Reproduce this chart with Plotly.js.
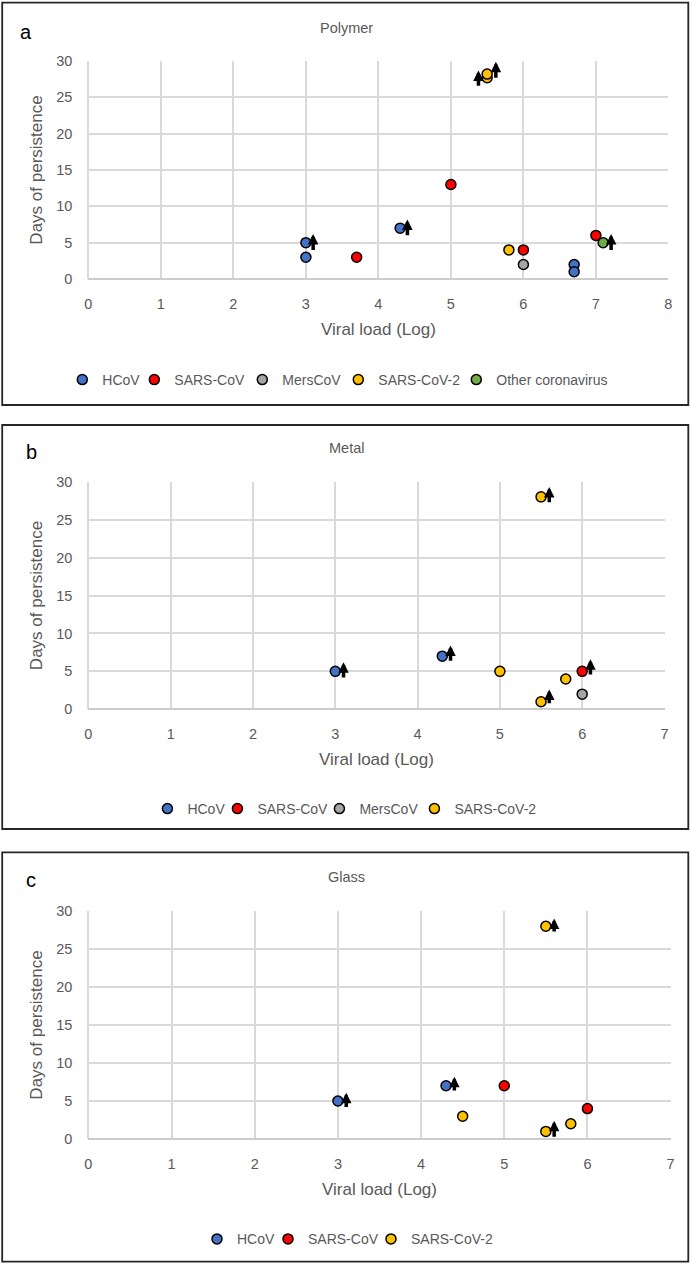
<!DOCTYPE html>
<html>
<head>
<meta charset="utf-8">
<script src="https://cdn.plot.ly/plotly-3.0.1.min.js"></script>
<style>
  html, body { margin: 0; padding: 0; background: #ffffff; }
  #chart { width: 692px; height: 1265px; }
</style>
</head>
<body>
<div id="chart"></div>
<script>
// ---------- Data ----------
const seriesNames = ['HCoV', 'SARS-CoV', 'MersCoV', 'SARS-CoV-2', 'Other coronavirus'];
const panelTitles = ['Polymer', 'Metal', 'Glass'];
const panelLetters = ['a', 'b', 'c'];
const xAxisTitle = 'Viral load (Log)';
const yAxisTitle = 'Days of persistence';
const xTickValsA = [0, 1, 2, 3, 4, 5, 6, 7, 8];
const xTickValsBC = [0, 1, 2, 3, 4, 5, 6, 7];
const yTickVals = [0, 5, 10, 15, 20, 25, 30];

// (a) Polymer
const polymerHCoVX = [3, 3, 4.3, 6.7, 6.7];
const polymerHCoVY = [5, 3, 7, 2, 1];
const polymerSARSX = [3.7, 5, 6, 7];
const polymerSARSY = [3, 13, 4, 6];
const polymerMersX = [6];
const polymerMersY = [2];
const polymerCoV2X = [5.5, 5.5, 5.8];
const polymerCoV2Y = [27.7, 28.2, 4];
const polymerOtherX = [7.1];
const polymerOtherY = [5];
const polymerArrowX = [3.1, 4.4, 5.38, 5.62, 7.21];
const polymerArrowFrom = [3.8, 5.8, 26.4, 27.5, 3.8];
const polymerArrowTo = [6.2, 8.2, 28.7, 29.9, 6.2];

// (b) Metal
const metalHCoVX = [3, 4.3];
const metalHCoVY = [5, 7];
const metalSARSX = [6];
const metalSARSY = [5];
const metalMersX = [6];
const metalMersY = [2];
const metalCoV2X = [5.5, 5, 5.8, 5.5];
const metalCoV2Y = [28, 5, 4, 1];
const metalArrowX = [3.1, 4.4, 5.6, 6.1, 5.6];
const metalArrowFrom = [4.0, 6.2, 27.1, 4.4, 0.6];
const metalArrowTo = [6.2, 8.4, 29.3, 6.6, 2.6];

// (c) Glass
const glassHCoVX = [3, 4.3];
const glassHCoVY = [5, 7];
const glassSARSX = [5, 6];
const glassSARSY = [7, 4];
const glassCoV2X = [5.5, 4.5, 5.8, 5.5];
const glassCoV2Y = [28, 3, 2, 1];
const glassArrowX = [3.1, 4.4, 5.6, 5.6];
const glassArrowFrom = [4.0, 6.2, 27.1, 0.1];
const glassArrowTo = [6.1, 8.2, 29.0, 2.4];

// ---------- Styles ----------
const seriesColors = {
  'HCoV': '#4472C4',
  'SARS-CoV': '#FF0000',
  'MersCoV': '#A5A5A5',
  'SARS-CoV-2': '#FFC000',
  'Other coronavirus': '#70AD47'
};
const FONT = '"Liberation Sans", Arial, sans-serif';
const TEXT_GRAY = '#595959';
const GRID = '#D9D9D9';
const W = 692, H = 1265;
const px = v => v / W;
const py = v => 1 - v / H;

function pt(name, x, y, xa, ya, legendId, lw) {
  return {
    type: 'scatter', mode: 'markers', name: name,
    x: x, y: y, xaxis: xa, yaxis: ya, legend: legendId,
    legendwidth: lw,
    cliponaxis: false,
    marker: { size: 10, color: seriesColors[name], line: { color: '#000000', width: 1.5 } },
    hoverinfo: 'x+y+name'
  };
}

const traces = [
  pt('HCoV', polymerHCoVX, polymerHCoVY, 'x', 'y', 'legend', 27),
  pt('SARS-CoV', polymerSARSX, polymerSARSY, 'x', 'y', 'legend', 63),
  pt('MersCoV', polymerMersX, polymerMersY, 'x', 'y', 'legend', 51),
  pt('SARS-CoV-2', polymerCoV2X, polymerCoV2Y, 'x', 'y', 'legend', 73),
  pt('Other coronavirus', polymerOtherX, polymerOtherY, 'x', 'y', 'legend', 0),

  pt('HCoV', metalHCoVX, metalHCoVY, 'x2', 'y2', 'legend2', 25),
  pt('SARS-CoV', metalSARSX, metalSARSY, 'x2', 'y2', 'legend2', 57),
  pt('MersCoV', metalMersX, metalMersY, 'x2', 'y2', 'legend2', 50),
  pt('SARS-CoV-2', metalCoV2X, metalCoV2Y, 'x2', 'y2', 'legend2', 0),

  pt('HCoV', glassHCoVX, glassHCoVY, 'x3', 'y3', 'legend3', 26),
  pt('SARS-CoV', glassSARSX, glassSARSY, 'x3', 'y3', 'legend3', 58),
  pt('SARS-CoV-2', glassCoV2X, glassCoV2Y, 'x3', 'y3', 'legend3', 0)
];

function xAxis(domain, range, tickvals, anchor) {
  return {
    domain: domain, range: range, tickvals: tickvals, anchor: anchor,
    showgrid: true, gridcolor: GRID, gridwidth: 2,
    zeroline: true, zerolinecolor: GRID, zerolinewidth: 2,
    showline: false, ticks: '', ticklabelstandoff: 14,
    tickfont: { family: FONT, size: 14.5, color: TEXT_GRAY },
    title: { text: xAxisTitle, font: { family: FONT, size: 17, color: TEXT_GRAY }, standoff: 12 },
    fixedrange: true
  };
}
function yAxis(domain, anchor) {
  return {
    domain: domain, range: [0, 30], tickvals: yTickVals, anchor: anchor,
    showgrid: true, gridcolor: GRID, gridwidth: 2,
    zeroline: true, zerolinecolor: '#CCCCCC', zerolinewidth: 2,
    showline: false, ticks: '', ticklabelstandoff: 15,
    tickfont: { family: FONT, size: 14.5, color: TEXT_GRAY },
    title: { text: yAxisTitle, font: { family: FONT, size: 17, color: TEXT_GRAY }, standoff: 9 },
    fixedrange: true
  };
}
function legendCfg(xPx, yPx) {
  return {
    orientation: 'h', x: px(xPx), xanchor: 'left', y: py(yPx), yanchor: 'middle',
    font: { family: FONT, size: 14, color: TEXT_GRAY },
    bgcolor: 'rgba(0,0,0,0)', borderwidth: 0, itemwidth: 30
  };
}

// panel geometry (px)
const panels = [
  { box: [2.2, 2.7, 688.3, 405], plotX: [88.4, 668.4], plotY: [61, 279], letter: [25.5, 32], title: 28, legend: [62.3, 380] },
  { box: [2.2, 425, 688.3, 829], plotX: [88.4, 664.5], plotY: [481.7, 709.3], letter: [31, 452.5], title: 448, legend: [147.4, 809] },
  { box: [2.2, 852.3, 688.3, 1261.7], plotX: [88.4, 670.6], plotY: [911, 1139], letter: [31, 880], title: 877.3, legend: [197, 1239.3] }
];

const layout = {
  width: W, height: H,
  margin: { l: 0, r: 0, t: 0, b: 0, pad: 0 },
  paper_bgcolor: '#ffffff', plot_bgcolor: '#ffffff',
  font: { family: FONT, color: TEXT_GRAY },
  showlegend: true,
  xaxis: xAxis([px(panels[0].plotX[0]), px(panels[0].plotX[1])], [0, 8], xTickValsA, 'y'),
  yaxis: yAxis([py(panels[0].plotY[1]), py(panels[0].plotY[0])], 'x'),
  xaxis2: xAxis([px(panels[1].plotX[0]), px(panels[1].plotX[1])], [0, 7], xTickValsBC, 'y2'),
  yaxis2: yAxis([py(panels[1].plotY[1]), py(panels[1].plotY[0])], 'x2'),
  xaxis3: xAxis([px(panels[2].plotX[0]), px(panels[2].plotX[1])], [0, 7], xTickValsBC, 'y3'),
  yaxis3: yAxis([py(panels[2].plotY[1]), py(panels[2].plotY[0])], 'x3'),
  legend: legendCfg(panels[0].legend[0], panels[0].legend[1]),
  legend2: legendCfg(panels[1].legend[0], panels[1].legend[1]),
  legend3: legendCfg(panels[2].legend[0], panels[2].legend[1]),
  shapes: [],
  annotations: []
};

panels.forEach((p, i) => {
  layout.shapes.push({
    type: 'rect', xref: 'paper', yref: 'paper',
    x0: px(p.box[0]), x1: px(p.box[2]), y0: py(p.box[3]), y1: py(p.box[1]),
    line: { color: '#262626', width: 1.8 }, fillcolor: 'rgba(0,0,0,0)', layer: 'above'
  });
  layout.annotations.push({
    xref: 'paper', yref: 'paper', x: px(p.letter[0]), y: py(p.letter[1]),
    xanchor: 'center', yanchor: 'middle', showarrow: false,
    text: panelLetters[i], font: { family: FONT, size: 20, color: '#000000' }
  });
  layout.annotations.push({
    xref: 'paper', yref: 'paper', x: 0.5, y: py(p.title),
    xanchor: 'center', yanchor: 'middle', showarrow: false,
    text: panelTitles[i], font: { family: FONT, size: 14.5, color: TEXT_GRAY }
  });
});

function addArrows(xs, from, to, xref, yref) {
  xs.forEach((x, k) => {
    layout.annotations.push({
      xref: xref, yref: yref, axref: xref, ayref: yref,
      x: x, y: to[k], ax: x, ay: from[k],
      text: '', showarrow: true,
      arrowhead: 2, arrowsize: 0.6, arrowwidth: 3.5, arrowcolor: '#000000', standoff: 0, startstandoff: 0
    });
  });
}
addArrows(polymerArrowX, polymerArrowFrom, polymerArrowTo, 'x', 'y');
addArrows(metalArrowX, metalArrowFrom, metalArrowTo, 'x2', 'y2');
addArrows(glassArrowX, glassArrowFrom, glassArrowTo, 'x3', 'y3');

Plotly.newPlot('chart', traces, layout, { displayModeBar: false, staticPlot: true });
</script>
</body>
</html>
